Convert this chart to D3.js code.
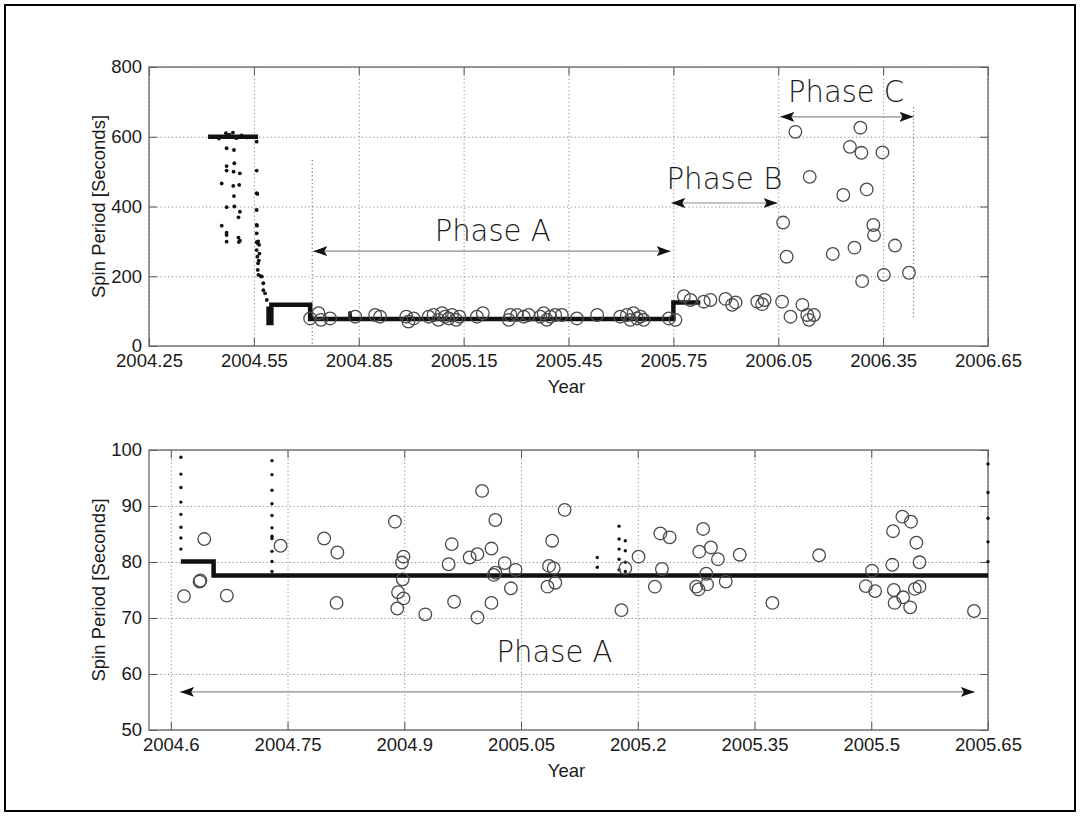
<!DOCTYPE html>
<html>
<head>
<meta charset="utf-8">
<script src="https://cdn.jsdelivr.net/npm/d3@7"></script>
<style>
  body { margin: 0; background: #fff; }
  svg { display: block; font-family: "Liberation Sans", Arial, sans-serif; }
</style>
</head>
<body>
<svg id="chart" width="1081" height="816"></svg>
<script>
// ---- tick labels
var topXTicks = [2004.25, 2004.55, 2004.85, 2005.15, 2005.45, 2005.75, 2006.05, 2006.35, 2006.65];
var topYTicks = [0, 200, 400, 600, 800];
var botXTicks = [2004.6, 2004.75, 2004.9, 2005.05, 2005.2, 2005.35, 2005.5, 2005.65];
var botYTicks = [50, 60, 70, 80, 90, 100];

// ---- top panel: spin period line (dense samples) [year, seconds]
var topLine = [[2004.419, 600], [2004.562, 600]];
var topLine2 = [[2004.592, 113], [2004.592, 66], [2004.600, 66], [2004.600, 118], [2004.711, 118],
  [2004.711, 77.5], [2005.750, 77.5], [2005.750, 125], [2005.827, 125]];

// ---- top panel: scattered spin samples
var topDots = [[2004.472, 567], [2004.493, 562], [2004.494, 524], [2004.472, 516], [2004.472, 503],
  [2004.492, 500], [2004.510, 495], [2004.458, 466], [2004.491, 459], [2004.508, 462], [2004.493, 430],
  [2004.472, 398], [2004.494, 400], [2004.510, 385], [2004.506, 369], [2004.458, 345], [2004.472, 325],
  [2004.472, 318], [2004.472, 299], [2004.506, 311], [2004.510, 302], [2004.507, 298],
  [2004.450, 595], [2004.470, 610], [2004.480, 606], [2004.490, 612], [2004.500, 596], [2004.515, 604],
  [2004.530, 598], [2004.558, 586], [2004.558, 503], [2004.558, 438], [2004.560, 436], [2004.558, 390],
  [2004.558, 347], [2004.559, 345], [2004.558, 323], [2004.558, 298], [2004.560, 295], [2004.562, 300],
  [2004.565, 290], [2004.558, 275], [2004.560, 256], [2004.562, 237], [2004.561, 218], [2004.563, 204],
  [2004.573, 199], [2004.577, 180], [2004.577, 160], [2004.582, 151], [2004.587, 132], [2004.566, 265],
  [2004.564, 245], [2004.570, 200], [2004.825, 85], [2004.825, 90], [2004.825, 95]];

// ---- top panel: measured periods (open circles)
var topCircles = [[2004.711, 79], [2004.735, 94], [2004.742, 75], [2004.768, 79], [2004.840, 84],
  [2004.897, 89], [2004.911, 84], [2004.986, 84], [2004.992, 70], [2005.007, 79], [2005.050, 84],
  [2005.064, 89], [2005.078, 75], [2005.088, 94], [2005.097, 84], [2005.107, 79], [2005.117, 89],
  [2005.129, 75], [2005.138, 84], [2005.188, 84], [2005.205, 94], [2005.279, 75], [2005.284, 89],
  [2005.303, 89], [2005.322, 84], [2005.336, 89], [2005.369, 84], [2005.379, 94], [2005.388, 75],
  [2005.398, 84], [2005.412, 89], [2005.431, 89], [2005.474, 79], [2005.532, 89], [2005.598, 84],
  [2005.617, 89], [2005.627, 75], [2005.636, 94], [2005.646, 79], [2005.656, 84], [2005.665, 75],
  [2005.737, 79], [2005.756, 75], [2005.780, 143], [2005.799, 132], [2005.837, 127], [2005.856, 132],
  [2005.899, 135], [2005.918, 118], [2005.928, 125], [2005.990, 127], [2006.004, 120], [2006.011, 132],
  [2006.061, 127], [2006.085, 84], [2006.119, 118], [2006.133, 89], [2006.138, 75], [2006.152, 89],
  [2006.099, 614], [2006.285, 626], [2006.255, 571], [2006.288, 554], [2006.348, 555], [2006.140, 485],
  [2006.236, 433], [2006.303, 449], [2006.064, 354], [2006.322, 347], [2006.324, 318], [2006.384, 288],
  [2006.074, 256], [2006.206, 264], [2006.268, 282], [2006.290, 186], [2006.352, 204], [2006.424, 210]];

// ---- top panel: phase annotations
var topPhaseNames = ["Phase A", "Phase B", "Phase C"];
var topPhaseText = [[2005.233, 301], [2005.896, 450], [2006.244, 700]];
var topPhaseArrows = [[2004.720, 2005.742, 272], [2005.744, 2006.048, 410], [2006.056, 2006.437, 657]];
var topPhaseMarks = [[2004.717, 533, 0], [2006.437, 685, 83]];

// ---- bottom panel (Phase A zoom)
var botLine = [[2004.613, 80.1], [2004.655, 80.1], [2004.655, 77.6], [2005.650, 77.6]];
var botDots = [[2004.613, 98.7], [2004.613, 95.7], [2004.613, 93.3], [2004.613, 90.7], [2004.613, 88.5],
  [2004.613, 86.2], [2004.613, 84.3], [2004.613, 82.3],
  [2004.730, 98.1], [2004.730, 95.6], [2004.730, 92.8], [2004.730, 90.4], [2004.730, 88.3],
  [2004.730, 86.1], [2004.730, 84.6], [2004.730, 84.2], [2004.730, 81.9], [2004.730, 80.1], [2004.730, 78.3],
  [2005.148, 80.8], [2005.148, 79.05],
  [2005.176, 86.4], [2005.176, 84.1], [2005.176, 82.3], [2005.176, 80.5], [2005.176, 78.6],
  [2005.184, 83.8], [2005.184, 82.0], [2005.184, 79.95], [2005.184, 78.3],
  [2005.650, 97.5], [2005.650, 92.4], [2005.650, 87.8], [2005.650, 83.6], [2005.650, 80.05]];
var botCircles = [[2004.617, 73.9], [2004.637, 76.5], [2004.638, 76.7], [2004.643, 84.1], [2004.672, 74.0],
  [2004.741, 82.9], [2004.797, 84.2], [2004.814, 81.7], [2004.813, 72.7], [2004.888, 87.2], [2004.899, 80.95],
  [2004.897, 79.9], [2004.898, 76.9], [2004.892, 74.6], [2004.899, 73.5], [2004.891, 71.7], [2004.927, 70.65],
  [2004.961, 83.2], [2004.957, 79.6], [2004.964, 72.9], [2004.984, 80.8], [2004.994, 81.4], [2005.000, 92.7],
  [2005.012, 82.4], [2005.017, 87.5], [2005.015, 77.7], [2005.017, 78.1], [2005.012, 72.7], [2004.994, 70.1],
  [2005.029, 79.8], [2005.043, 78.6], [2005.037, 75.3], [2005.090, 83.8], [2005.086, 79.3], [2005.092, 78.9],
  [2005.094, 76.3], [2005.084, 75.6], [2005.106, 89.3], [2005.179, 71.4], [2005.184, 78.9], [2005.201, 80.95],
  [2005.229, 85.1], [2005.241, 84.4], [2005.231, 78.75], [2005.222, 75.6], [2005.284, 85.9], [2005.279, 81.85],
  [2005.294, 82.6], [2005.303, 80.5], [2005.288, 77.9], [2005.275, 75.6], [2005.278, 75.1], [2005.289, 76.0],
  [2005.313, 76.5], [2005.331, 81.3], [2005.373, 72.7], [2005.433, 81.2], [2005.501, 78.45], [2005.493, 75.7],
  [2005.505, 74.8], [2005.528, 85.5], [2005.540, 88.1], [2005.551, 87.2], [2005.558, 83.45], [2005.562, 79.95],
  [2005.527, 79.5], [2005.529, 75.0], [2005.530, 72.7], [2005.541, 73.7], [2005.550, 71.9], [2005.556, 75.2],
  [2005.562, 75.6], [2005.632, 71.25]];
var botPhaseText = [2005.093, 62.1];
var botPhaseArrow = [2004.612, 2005.633, 56.8];

var svg = d3.select("#chart");

// outer frame
svg.append("rect")
  .attr("x", 5).attr("y", 5)
  .attr("width", 1070).attr("height", 806)
  .attr("fill", "none")
  .attr("stroke", "#000")
  .attr("stroke-width", 2);

var defs = svg.append("defs");
defs.append("marker")
  .attr("id", "head")
  .attr("viewBox", "0 0 14 10")
  .attr("refX", 14).attr("refY", 5)
  .attr("markerWidth", 14).attr("markerHeight", 10)
  .attr("markerUnits", "userSpaceOnUse")
  .attr("orient", "auto-start-reverse")
  .append("path")
  .attr("d", "M0,0L14,5L0,10L3,5Z")
  .attr("fill", "#111");

function makePanel(top, bottom, xDom, yDom, xTicks, yTicks, xFmt) {
  var left = 149, right = 988;
  var x = d3.scaleLinear().domain(xDom).range([left, right]);
  var y = d3.scaleLinear().domain(yDom).range([bottom, top]);
  var g = svg.append("g");
  var h = bottom - top, w = right - left;

  // dotted grid
  g.append("g")
    .attr("transform", "translate(0," + bottom + ")")
    .call(d3.axisBottom(x).tickValues(xTicks).tickSize(-h).tickFormat(""))
    .call(function(s) {
      s.select(".domain").remove();
      s.selectAll("line").attr("stroke", "#8a8a8a").attr("stroke-dasharray", "1.2,2.6");
    });
  g.append("g")
    .attr("transform", "translate(" + left + ",0)")
    .call(d3.axisLeft(y).tickValues(yTicks).tickSize(-w).tickFormat(""))
    .call(function(s) {
      s.select(".domain").remove();
      s.selectAll("line").attr("stroke", "#8a8a8a").attr("stroke-dasharray", "1.2,2.6");
    });

  // inner ticks on all four sides
  function styleAxis(s) {
    s.select(".domain").remove();
    s.selectAll("line").attr("stroke", "#555");
    s.selectAll("text").attr("fill", "#1a1a1a").style("font-size", "18.5px")
      .style("font-family", "'Liberation Sans', Arial, sans-serif");
  }
  g.append("g")
    .attr("transform", "translate(0," + bottom + ")")
    .call(d3.axisBottom(x).tickValues(xTicks).tickSize(-8).tickPadding(8).tickFormat(xFmt))
    .call(styleAxis);
  g.append("g")
    .attr("transform", "translate(0," + top + ")")
    .call(d3.axisTop(x).tickValues(xTicks).tickSize(-8).tickFormat(""))
    .call(styleAxis);
  g.append("g")
    .attr("transform", "translate(" + left + ",0)")
    .call(d3.axisLeft(y).tickValues(yTicks).tickSize(-8).tickPadding(7))
    .call(styleAxis);
  g.append("g")
    .attr("transform", "translate(" + right + ",0)")
    .call(d3.axisRight(y).tickValues(yTicks).tickSize(-8).tickFormat(""))
    .call(styleAxis);

  g.append("rect")
    .attr("x", left).attr("y", top)
    .attr("width", w).attr("height", h)
    .attr("fill", "none")
    .attr("stroke", "#666")
    .attr("stroke-width", 1.3);

  g.append("text")
    .attr("x", (left + right) / 2 - 2)
    .attr("y", bottom + 47)
    .attr("text-anchor", "middle")
    .attr("fill", "#1a1a1a")
    .style("font-size", "18.5px")
    .text("Year");

  g.append("text")
    .attr("transform", "translate(105," + ((top + bottom) / 2) + ") rotate(-90)")
    .attr("text-anchor", "middle")
    .attr("fill", "#1a1a1a")
    .style("font-size", "18.5px")
    .text("Spin Period [Seconds]");

  var plot = svg.append("g");
  return {x: x, y: y, g: plot};
}

function drawLine(p, pts, width) {
  var line = d3.line().x(function(d) { return p.x(d[0]); }).y(function(d) { return p.y(d[1]); });
  p.g.append("path")
    .datum(pts)
    .attr("d", line)
    .attr("fill", "none")
    .attr("stroke", "#111")
    .attr("stroke-width", width);
}

function drawDots(p, pts, r) {
  p.g.selectAll(null)
    .data(pts)
    .enter().append("circle")
    .attr("cx", function(d) { return p.x(d[0]); })
    .attr("cy", function(d) { return p.y(d[1]); })
    .attr("r", r)
    .attr("fill", "#111");
}

function drawCircles(p, pts) {
  p.g.selectAll(null)
    .data(pts)
    .enter().append("circle")
    .attr("cx", function(d) { return p.x(d[0]); })
    .attr("cy", function(d) { return p.y(d[1]); })
    .attr("r", 6.3)
    .attr("fill", "none")
    .attr("stroke", "#4a4a4a")
    .attr("stroke-width", 1.3);
}

function drawArrow(p, a) {
  p.g.append("line")
    .attr("x1", p.x(a[0])).attr("x2", p.x(a[1]))
    .attr("y1", p.y(a[2])).attr("y2", p.y(a[2]))
    .attr("stroke", "#8c8c8c")
    .attr("stroke-width", 1.2)
    .attr("marker-start", "url(#head)")
    .attr("marker-end", "url(#head)");
}

function drawPhaseText(p, pos, label) {
  p.g.append("text")
    .attr("x", p.x(pos[0]))
    .attr("y", p.y(pos[1]))
    .attr("text-anchor", "middle")
    .attr("fill", "#1a1a1a")
    .attr("textLength", 116)
    .attr("lengthAdjust", "spacingAndGlyphs")
    .style("font-family", "'DejaVu Sans', sans-serif")
    .style("font-weight", 200)
    .style("font-size", "30px")
    .text(label);
}

// ---------- top panel
var topP = makePanel(67, 346, [2004.25, 2006.65], [0, 800], topXTicks, topYTicks, function(d) { return d.toFixed(2); });

topPhaseMarks.forEach(function(m) {
  topP.g.append("line")
    .attr("x1", topP.x(m[0])).attr("x2", topP.x(m[0]))
    .attr("y1", topP.y(m[1])).attr("y2", topP.y(m[2]))
    .attr("stroke", "#777")
    .attr("stroke-width", 1.2)
    .attr("stroke-dasharray", "1.2,2.6");
});
drawLine(topP, topLine, 4.5);
drawLine(topP, topLine2, 4.5);
drawDots(topP, topDots, 1.9);
drawCircles(topP, topCircles);
topPhaseArrows.forEach(function(a) { drawArrow(topP, a); });
topPhaseNames.forEach(function(n, i) { drawPhaseText(topP, topPhaseText[i], n); });

// ---------- bottom panel
var botP = makePanel(450, 730, [2004.572, 2005.65], [50, 100], botXTicks, botYTicks, function(d) { return String(d); });
drawLine(botP, botLine, 4.5);
drawDots(botP, botDots, 1.7);
drawCircles(botP, botCircles);
drawArrow(botP, botPhaseArrow);
drawPhaseText(botP, botPhaseText, "Phase A");
</script>
</body>
</html>
